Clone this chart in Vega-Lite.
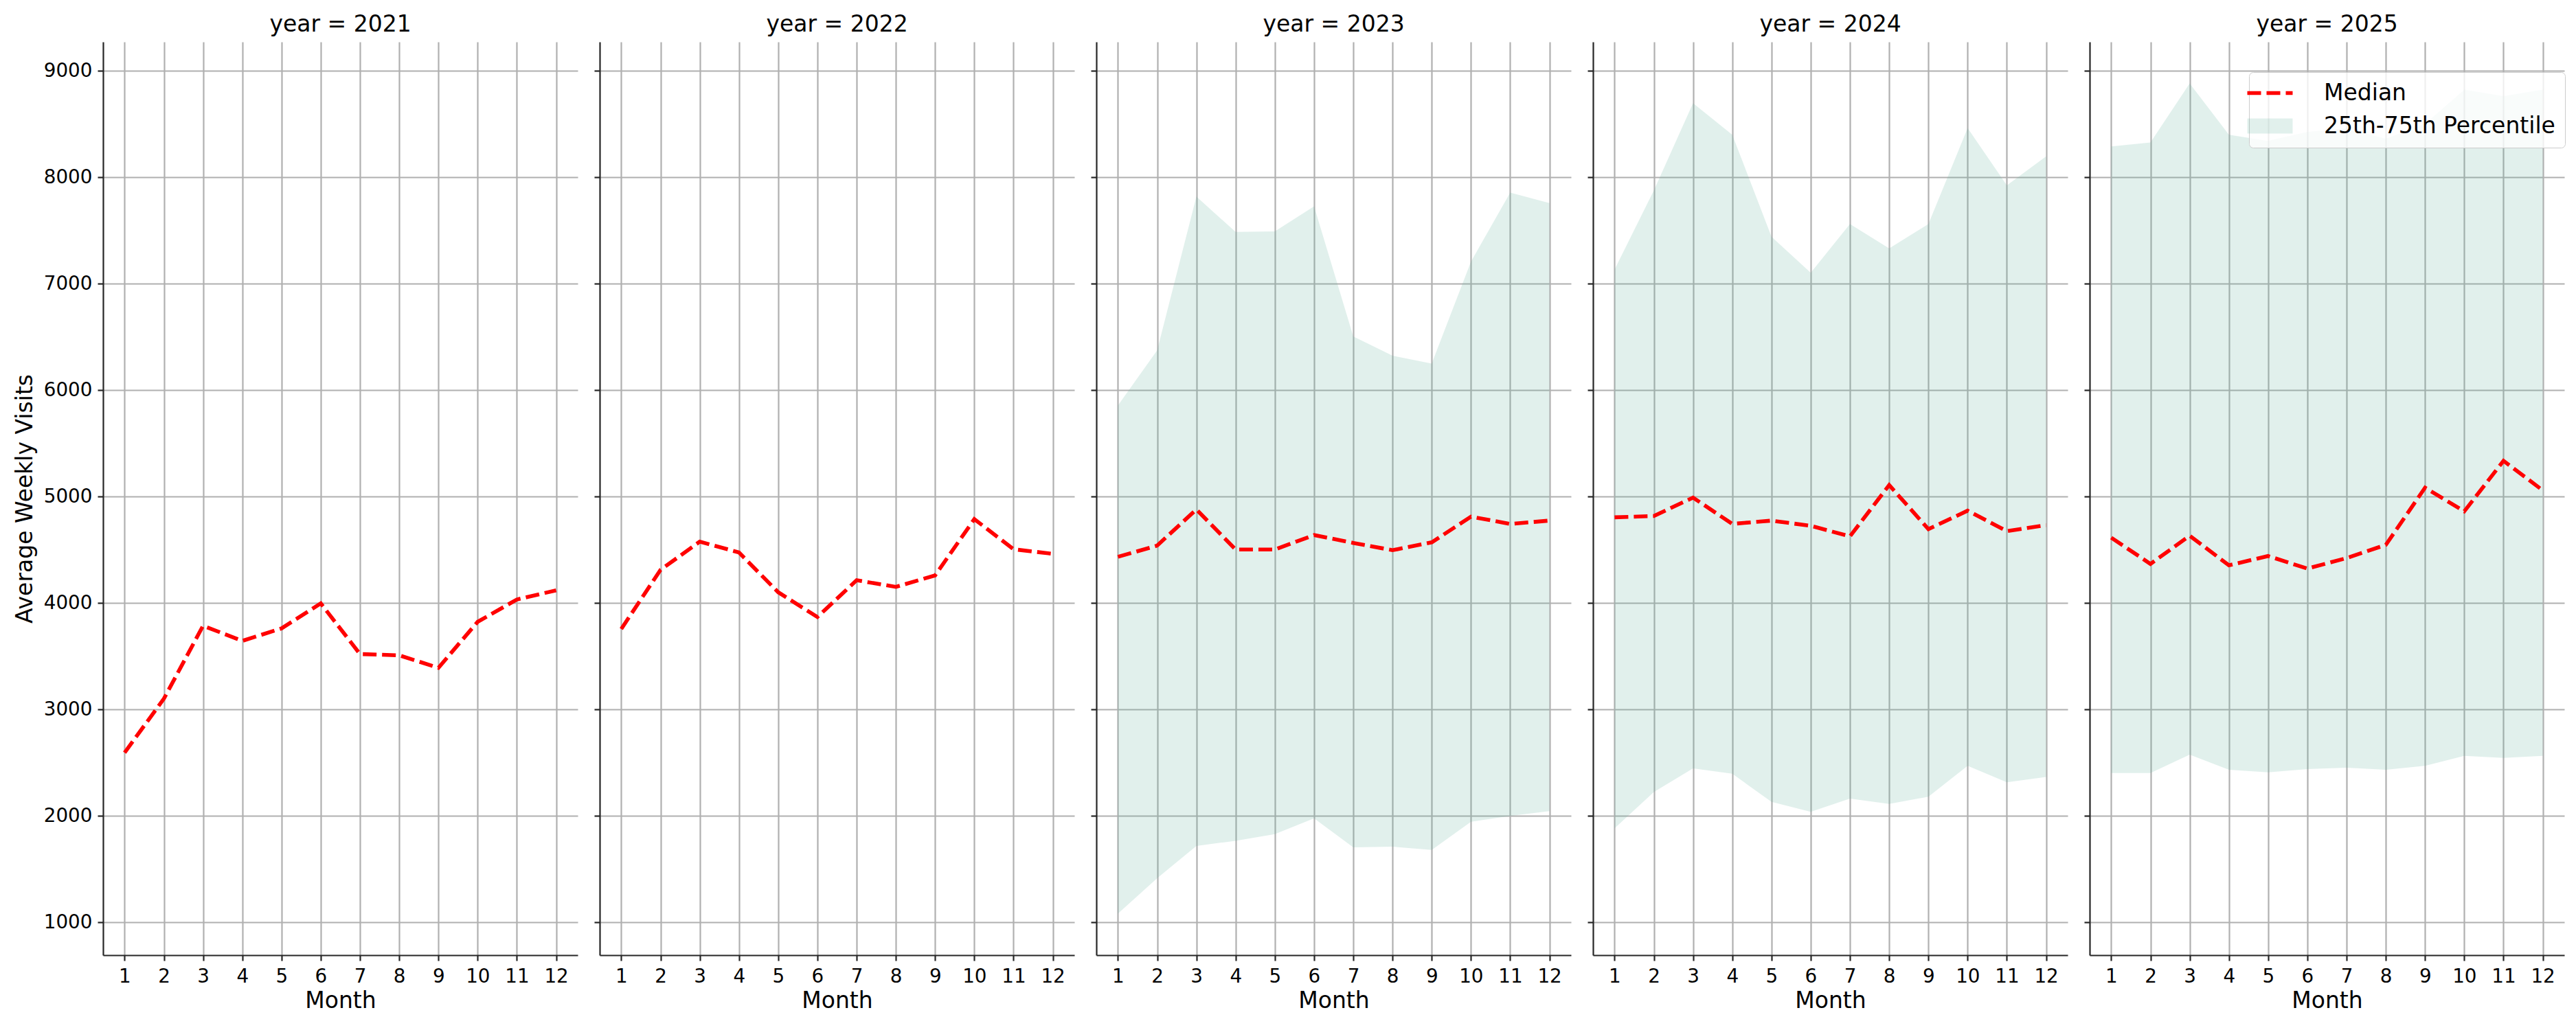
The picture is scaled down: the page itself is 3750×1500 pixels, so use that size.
{
  "$schema": "https://vega.github.io/schema/vega-lite/v6.json",
  "background": "white",
  "padding": {"left": 20, "top": 20, "right": 0, "bottom": 0},
  "datasets": {
    "visits": [
      {"year": 2021, "month": 1, "median": 2595, "p25": null, "p75": null},
      {"year": 2021, "month": 2, "median": 3101, "p25": null, "p75": null},
      {"year": 2021, "month": 3, "median": 3787, "p25": null, "p75": null},
      {"year": 2021, "month": 4, "median": 3645, "p25": null, "p75": null},
      {"year": 2021, "month": 5, "median": 3762, "p25": null, "p75": null},
      {"year": 2021, "month": 6, "median": 3997, "p25": null, "p75": null},
      {"year": 2021, "month": 7, "median": 3521, "p25": null, "p75": null},
      {"year": 2021, "month": 8, "median": 3509, "p25": null, "p75": null},
      {"year": 2021, "month": 9, "median": 3392, "p25": null, "p75": null},
      {"year": 2021, "month": 10, "median": 3824, "p25": null, "p75": null},
      {"year": 2021, "month": 11, "median": 4034, "p25": null, "p75": null},
      {"year": 2021, "month": 12, "median": 4120, "p25": null, "p75": null},
      {"year": 2022, "month": 1, "median": 3757, "p25": null, "p75": null},
      {"year": 2022, "month": 2, "median": 4312, "p25": null, "p75": null},
      {"year": 2022, "month": 3, "median": 4577, "p25": null, "p75": null},
      {"year": 2022, "month": 4, "median": 4476, "p25": null, "p75": null},
      {"year": 2022, "month": 5, "median": 4102, "p25": null, "p75": null},
      {"year": 2022, "month": 6, "median": 3869, "p25": null, "p75": null},
      {"year": 2022, "month": 7, "median": 4215, "p25": null, "p75": null},
      {"year": 2022, "month": 8, "median": 4152, "p25": null, "p75": null},
      {"year": 2022, "month": 9, "median": 4260, "p25": null, "p75": null},
      {"year": 2022, "month": 10, "median": 4789, "p25": null, "p75": null},
      {"year": 2022, "month": 11, "median": 4506, "p25": null, "p75": null},
      {"year": 2022, "month": 12, "median": 4463, "p25": null, "p75": null},
      {"year": 2023, "month": 1, "median": 4435, "p25": 1082, "p75": 5856},
      {"year": 2023, "month": 2, "median": 4540, "p25": 1415, "p75": 6375},
      {"year": 2023, "month": 3, "median": 4880, "p25": 1718, "p75": 7820},
      {"year": 2023, "month": 4, "median": 4503, "p25": 1767, "p75": 7487},
      {"year": 2023, "month": 5, "median": 4503, "p25": 1829, "p75": 7493},
      {"year": 2023, "month": 6, "median": 4639, "p25": 1977, "p75": 7728},
      {"year": 2023, "month": 7, "median": 4565, "p25": 1705, "p75": 6505},
      {"year": 2023, "month": 8, "median": 4497, "p25": 1711, "p75": 6325},
      {"year": 2023, "month": 9, "median": 4571, "p25": 1681, "p75": 6251},
      {"year": 2023, "month": 10, "median": 4812, "p25": 1946, "p75": 7209},
      {"year": 2023, "month": 11, "median": 4744, "p25": 2000, "p75": 7857},
      {"year": 2023, "month": 12, "median": 4775, "p25": 2045, "p75": 7759},
      {"year": 2024, "month": 1, "median": 4806, "p25": 1884, "p75": 7135},
      {"year": 2024, "month": 2, "median": 4818, "p25": 2224, "p75": 7876},
      {"year": 2024, "month": 3, "median": 4991, "p25": 2447, "p75": 8697},
      {"year": 2024, "month": 4, "median": 4744, "p25": 2397, "p75": 8401},
      {"year": 2024, "month": 5, "median": 4775, "p25": 2132, "p75": 7443},
      {"year": 2024, "month": 6, "median": 4726, "p25": 2039, "p75": 7104},
      {"year": 2024, "month": 7, "median": 4627, "p25": 2163, "p75": 7561},
      {"year": 2024, "month": 8, "median": 5109, "p25": 2113, "p75": 7332},
      {"year": 2024, "month": 9, "median": 4695, "p25": 2181, "p75": 7561},
      {"year": 2024, "month": 10, "median": 4868, "p25": 2471, "p75": 8463},
      {"year": 2024, "month": 11, "median": 4676, "p25": 2317, "p75": 7925},
      {"year": 2024, "month": 12, "median": 4732, "p25": 2366, "p75": 8197},
      {"year": 2025, "month": 1, "median": 4615, "p25": 2403, "p75": 8290},
      {"year": 2025, "month": 2, "median": 4368, "p25": 2403, "p75": 8327},
      {"year": 2025, "month": 3, "median": 4633, "p25": 2576, "p75": 8883},
      {"year": 2025, "month": 4, "median": 4355, "p25": 2434, "p75": 8401},
      {"year": 2025, "month": 5, "median": 4442, "p25": 2410, "p75": 8343},
      {"year": 2025, "month": 6, "median": 4324, "p25": 2440, "p75": 8428},
      {"year": 2025, "month": 7, "median": 4423, "p25": 2453, "p75": 8460},
      {"year": 2025, "month": 8, "median": 4547, "p25": 2434, "p75": 8364},
      {"year": 2025, "month": 9, "median": 5084, "p25": 2471, "p75": 8503},
      {"year": 2025, "month": 10, "median": 4862, "p25": 2564, "p75": 8824},
      {"year": 2025, "month": 11, "median": 5337, "p25": 2545, "p75": 8764},
      {"year": 2025, "month": 12, "median": 5059, "p25": 2564, "p75": 8824}
    ]
  },
  "spacing": 22,
  "hconcat": [
    {
      "width": 691, "height": 1330,
      "title": "year = 2021",
      "data": {"name": "visits"},
      "transform": [{"filter": "datum.year == 2021"}],
      "mark": {"type": "line", "color": "#ff0000", "strokeWidth": 5.6, "strokeDash": [20, 8]},
      "encoding": {
        "x": {"field": "month", "type": "quantitative", "scale": {"domain": [0.45, 12.55], "nice": false, "zero": false}, "axis": {"values": [1, 2, 3, 4, 5, 6, 7, 8, 9, 10, 11, 12], "format": "d", "title": "Month"}},
        "y": {"field": "median", "type": "quantitative", "scale": {"domain": [692, 9273], "nice": false, "zero": false}, "axis": {"values": [1000, 2000, 3000, 4000, 5000, 6000, 7000, 8000, 9000], "format": "d", "title": "Average Weekly Visits"}}
      }
    },
    {
      "width": 691, "height": 1330,
      "title": "year = 2022",
      "data": {"name": "visits"},
      "transform": [{"filter": "datum.year == 2022"}],
      "mark": {"type": "line", "color": "#ff0000", "strokeWidth": 5.6, "strokeDash": [20, 8]},
      "encoding": {
        "x": {"field": "month", "type": "quantitative", "scale": {"domain": [0.45, 12.55], "nice": false, "zero": false}, "axis": {"values": [1, 2, 3, 4, 5, 6, 7, 8, 9, 10, 11, 12], "format": "d", "title": "Month"}},
        "y": {"field": "median", "type": "quantitative", "scale": {"domain": [692, 9273], "nice": false, "zero": false}, "axis": {"values": [1000, 2000, 3000, 4000, 5000, 6000, 7000, 8000, 9000], "labels": false, "title": null}}
      }
    },
    {
      "width": 691, "height": 1330,
      "title": "year = 2023",
      "data": {"name": "visits"},
      "transform": [{"filter": "datum.year == 2023"}],
      "encoding": {
        "x": {"field": "month", "type": "quantitative", "scale": {"domain": [0.45, 12.55], "nice": false, "zero": false}, "axis": {"values": [1, 2, 3, 4, 5, 6, 7, 8, 9, 10, 11, 12], "format": "d", "title": "Month"}}
      },
      "layer": [
        {
          "mark": {"type": "area", "color": "#69b3a2", "opacity": 0.2},
          "encoding": {
            "y": {"field": "p25", "type": "quantitative", "scale": {"domain": [692, 9273], "nice": false, "zero": false}, "axis": {"values": [1000, 2000, 3000, 4000, 5000, 6000, 7000, 8000, 9000], "labels": false, "title": null}},
            "y2": {"field": "p75"}
          }
        },
        {
          "mark": {"type": "line", "color": "#ff0000", "strokeWidth": 5.6, "strokeDash": [20, 8]},
          "encoding": {
            "y": {"field": "median", "type": "quantitative", "scale": {"domain": [692, 9273], "nice": false, "zero": false}, "axis": {"values": [1000, 2000, 3000, 4000, 5000, 6000, 7000, 8000, 9000], "labels": false, "title": null}}
          }
        }
      ]
    },
    {
      "width": 691, "height": 1330,
      "title": "year = 2024",
      "data": {"name": "visits"},
      "transform": [{"filter": "datum.year == 2024"}],
      "encoding": {
        "x": {"field": "month", "type": "quantitative", "scale": {"domain": [0.45, 12.55], "nice": false, "zero": false}, "axis": {"values": [1, 2, 3, 4, 5, 6, 7, 8, 9, 10, 11, 12], "format": "d", "title": "Month"}}
      },
      "layer": [
        {
          "mark": {"type": "area", "color": "#69b3a2", "opacity": 0.2},
          "encoding": {
            "y": {"field": "p25", "type": "quantitative", "scale": {"domain": [692, 9273], "nice": false, "zero": false}, "axis": {"values": [1000, 2000, 3000, 4000, 5000, 6000, 7000, 8000, 9000], "labels": false, "title": null}},
            "y2": {"field": "p75"}
          }
        },
        {
          "mark": {"type": "line", "color": "#ff0000", "strokeWidth": 5.6, "strokeDash": [20, 8]},
          "encoding": {
            "y": {"field": "median", "type": "quantitative", "scale": {"domain": [692, 9273], "nice": false, "zero": false}, "axis": {"values": [1000, 2000, 3000, 4000, 5000, 6000, 7000, 8000, 9000], "labels": false, "title": null}}
          }
        }
      ]
    },
    {
      "width": 691, "height": 1330,
      "title": "year = 2025",
      "data": {"name": "visits"},
      "transform": [{"filter": "datum.year == 2025"}],
      "encoding": {
        "x": {"field": "month", "type": "quantitative", "scale": {"domain": [0.45, 12.55], "nice": false, "zero": false}, "axis": {"values": [1, 2, 3, 4, 5, 6, 7, 8, 9, 10, 11, 12], "format": "d", "title": "Month"}}
      },
      "layer": [
        {
          "mark": {"type": "area", "opacity": 0.2},
          "encoding": {
            "y": {"field": "p25", "type": "quantitative", "scale": {"domain": [692, 9273], "nice": false, "zero": false}, "axis": {"values": [1000, 2000, 3000, 4000, 5000, 6000, 7000, 8000, 9000], "labels": false, "title": null}},
            "y2": {"field": "p75"},
            "color": {"datum": "25th-75th Percentile", "type": "nominal"}
          }
        },
        {
          "mark": {"type": "line", "strokeWidth": 5.6, "strokeDash": [20, 8]},
          "encoding": {
            "y": {"field": "median", "type": "quantitative", "scale": {"domain": [692, 9273], "nice": false, "zero": false}, "axis": {"values": [1000, 2000, 3000, 4000, 5000, 6000, 7000, 8000, 9000], "labels": false, "title": null}},
            "color": {
              "datum": "Median",
              "type": "nominal",
              "scale": {"domain": ["Median", "25th-75th Percentile"], "range": ["#ff0000", "#69b3a2"]},
              "legend": {
                "title": null,
                "orient": "none",
                "legendX": 3124,
                "legendY": 44,
                "labelFont": "DejaVu Sans",
                "labelFontSize": 33,
                "labelColor": "#000000",
                "labelLimit": 700,
                "symbolSize": 4356,
                "labelOffset": 62,
                "rowPadding": 14,
                "padding": 14,
                "fillColor": "rgba(255,255,255,0.8)",
                "strokeColor": "#cccccc",
                "cornerRadius": 6,
                "encode": {
                  "symbols": {
                    "update": {
                      "shape": {"signal": "datum.value === 'Median' ? 'stroke' : 'M-1,-0.333H1V0.333H-1Z'"},
                      "size": {"value": 4356},
                      "stroke": {"signal": "datum.value === 'Median' ? '#ff0000' : '#e0f0ec'"},
                      "strokeWidth": {"signal": "datum.value === 'Median' ? 5.6 : 0"},
                      "strokeOpacity": {"signal": "datum.value === 'Median' ? 1 : 0"},
                      "strokeDash": {"signal": "datum.value === 'Median' ? [20, 8] : [1, 0]"},
                      "fill": {"signal": "datum.value === 'Median' ? '#ffffff' : '#69b3a2'"},
                      "fillOpacity": {"signal": "datum.value === 'Median' ? 0 : 0.2"},
                      "opacity": {"value": 1}
                    }
                  }
                }
              }
            }
          }
        }
      ]
    }
  ],
  "config": {
    "font": "DejaVu Sans",
    "view": {"stroke": null},
    "axis": {
      "labelFont": "DejaVu Sans",
      "labelFontSize": 27.8,
      "labelColor": "#000000",
      "titleFont": "DejaVu Sans",
      "titleFontSize": 33,
      "titleFontWeight": "normal",
      "titleColor": "#000000",
      "domainColor": "#262626",
      "domainWidth": 2.2,
      "tickColor": "#262626",
      "tickWidth": 2.2,
      "tickSize": 8,
      "labelPadding": 9,
      "grid": true,
      "gridColor": "#b0b0b0",
      "gridWidth": 2.2,
      "gridOpacity": 1
    },
    "axisX": {"titlePadding": 6, "labelFlush": false},
    "axisY": {"titlePadding": 10, "labelPadding": 8},
    "title": {
      "font": "DejaVu Sans",
      "fontSize": 33,
      "fontWeight": "normal",
      "color": "#000000",
      "anchor": "middle",
      "frame": "group",
      "baseline": "alphabetic",
      "offset": 8
    }
  }
}
